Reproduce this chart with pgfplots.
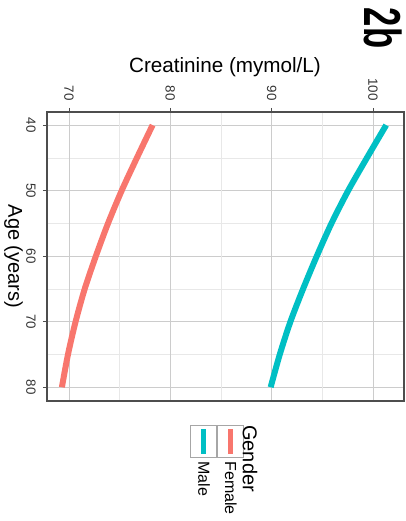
\documentclass[border=0pt]{standalone}
\usepackage{graphicx}
\usepackage{pgfplots}
\pgfplotsset{compat=1.18}
\usepackage{fontspec}
\setmainfont{Liberation Sans}
\definecolor{female}{HTML}{F8766D}
\definecolor{male}{HTML}{00BFC4}
\definecolor{frame}{HTML}{4D4D4D}

% the chart is drawn upright (age along x) and the whole picture turned a quarter clockwise
\begin{document}
\rotatebox{-90}{%
\begin{tikzpicture}
\useasboundingbox (-84pt,-35.25pt) rectangle (306.75pt,269.25pt);
\begin{axis}[
    at={(0pt,0pt)}, anchor=south west,
    scale only axis, width=216.75pt, height=267.75pt,
    xmin=38, xmax=82.1, ymin=67.83, ymax=103.06,
    xtick={40,50,60,70,80}, ytick={70,80,90,100},
    minor xtick={45,55,65,75}, minor ytick={75,85,95},
    grid=both,
    major grid style={gray!40, line width=0.5pt},
    minor grid style={gray!18, line width=0.4pt},
    axis line style={frame, line width=0.8pt},
    tick pos=left, tick align=outside,
    major tick length=3pt, minor tick length=0pt,
    tick style={frame, line width=0.6pt},
    xticklabel shift=2pt, yticklabel shift=2pt,
    /pgf/number format/assume math mode=true,
    ticklabel style={font=\fontsize{10}{12}\selectfont, text=black!80},
    xlabel={Age (years)},
    ylabel={Creatinine (mymol/L)},
    xlabel style={at={(axis description cs:0.5,-0.094)}, anchor=center,
        font=\fontsize{15}{18}\selectfont},
    ylabel style={at={(axis description cs:-0.156,0.4986)}, anchor=center,
        font=\fontsize{15.5}{18}\selectfont},
    legend style={at={(axis description cs:1.083,0.551)}, anchor=north west,
        draw=none, fill=none, inner sep=0pt, row sep=0pt, column sep=2.5pt,
        nodes={inner sep=0pt, font=\fontsize{12}{14}\selectfont}},
    legend cell align=left,
    legend image code/.code={
        \draw[draw=gray!70, fill=white, line width=0.6pt, solid] (0pt,-9.75pt) rectangle (24pt,9.75pt);
        \draw[#1, line width=3.75pt] (2.6pt,0pt) -- (21.4pt,0pt);
    },
]
\addplot[female, line width=4.5pt, smooth] coordinates {
    (40,78.25) (45,76.7) (50,75.2) (55,73.85) (60,72.65)
    (65,71.55) (70,70.65) (75,69.9) (80,69.3)
};
\addlegendentry{Female}
\addplot[male, line width=4.5pt, smooth] coordinates {
    (40,101.3) (45,99.4) (50,97.55) (55,95.9) (60,94.45)
    (65,93.1) (70,91.85) (75,90.8) (80,89.9)
};
\addlegendentry{Male}
\end{axis}
\node[inner sep=0pt, font=\bfseries\fontsize{26}{30}\selectfont] at (-63pt,252pt) {\scalebox{1}[1.5]{2b}};
\node[anchor=west, inner sep=0pt, font=\fontsize{15}{18}\selectfont] at (234.75pt,152.25pt) {Gender};
\end{tikzpicture}%
}
\end{document}
